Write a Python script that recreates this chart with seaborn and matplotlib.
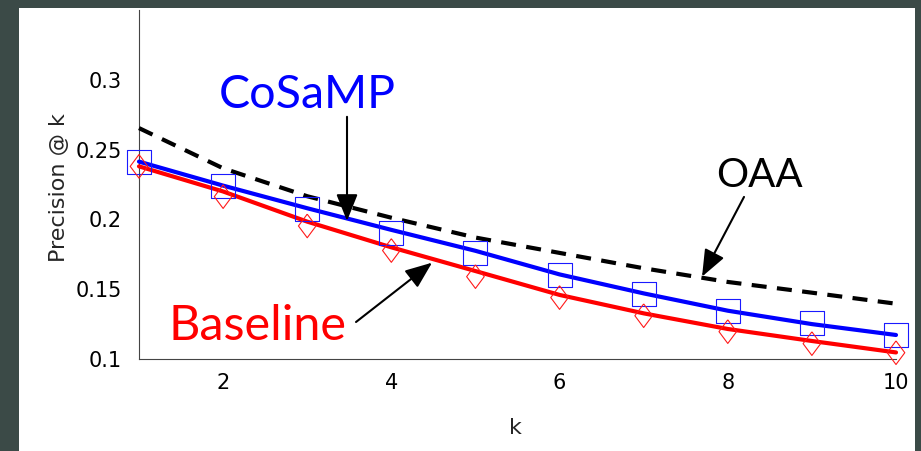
import numpy as np
import pandas as pd
import matplotlib
matplotlib.use("Agg")
import matplotlib.pyplot as plt
from matplotlib.patches import Rectangle
import seaborn as sns

# data
k = [1, 2, 3, 4, 5, 6, 7, 8, 9, 10]
oaa = [0.2654, 0.2366, 0.2166, 0.2012, 0.1870, 0.1760, 0.1650, 0.1552, 0.1475, 0.1396]
cosamp_curve = [0.2414, 0.2242, 0.2080, 0.1925, 0.1775, 0.1606, 0.1470, 0.1346, 0.1250, 0.1172]
cosamp_pts = [0.2414, 0.2240, 0.2074, 0.1900, 0.1757, 0.1600, 0.1466, 0.1346, 0.1256, 0.1170]
base_curve = [0.2380, 0.2200, 0.1984, 0.1800, 0.1630, 0.1459, 0.1327, 0.1215, 0.1129, 0.1047]
base_pts = [0.2380, 0.2163, 0.1953, 0.1777, 0.1590, 0.1440, 0.1310, 0.1196, 0.1110, 0.1045]

xticks = [2, 4, 6, 8, 10]
yticks = [0.1, 0.15, 0.2, 0.25, 0.3]
ytick_labels = ["0.1", "0.15", "0.2", "0.25", "0.3"]

df = pd.DataFrame({"k": k, "oaa": oaa, "cosamp": cosamp_curve, "cosamp_pts": cosamp_pts,
                   "base": base_curve, "base_pts": base_pts})

sns.set_style("white")
plt.rcParams["font.family"] = ["DejaVu Sans"]

fig = plt.figure(figsize=(9.21, 4.51), dpi=100)
fig.patch.set_facecolor("#3b4a47")
# white sheet inside the dark frame
fig.patches.append(Rectangle((19 / 921, 0), 896 / 921, 443 / 451, transform=fig.transFigure,
                             facecolor="white", edgecolor="none", zorder=-1))

ax = fig.add_axes([139 / 921, 1 - 359 / 451, 757 / 921, 349 / 451])
ax.set_facecolor("none")

# curves
sns.lineplot(data=df, x="k", y="oaa", ax=ax, color="black", lw=3, linestyle=(0, (3.6, 2.5)),
             clip_on=False, zorder=3)
sns.lineplot(data=df, x="k", y="cosamp", ax=ax, color="#0000ff", lw=3, clip_on=False, zorder=3)
sns.lineplot(data=df, x="k", y="base", ax=ax, color="#ff0000", lw=3, clip_on=False, zorder=3)

# point markers
diamond = [(0, 1), (0.745, 0), (0, -1), (-0.745, 0), (0, 1)]
sns.scatterplot(data=df, x="k", y="cosamp_pts", ax=ax, marker="s", s=17.3 ** 2,
                facecolor="none", edgecolor="#1a1aff", linewidth=0.8, clip_on=False, zorder=4)
sns.scatterplot(data=df, x="k", y="base_pts", ax=ax, marker=diamond, s=17 ** 2,
                facecolor="none", edgecolor="#ff1a1a", linewidth=0.8, clip_on=False, zorder=4)

ax.set_xlim(1, 10)
ax.set_ylim(0.1, 0.35)
ax.set_xticks(xticks)
ax.set_yticks(yticks)
ax.set_yticklabels(ytick_labels)
ax.tick_params(axis="both", direction="in", length=6, width=0.8, color="#444444",
               labelsize=15, labelcolor="black")
ax.tick_params(axis="x", pad=10)
ax.tick_params(axis="y", pad=12.5)
for side in ["top", "right"]:
    ax.spines[side].set_visible(False)
for side in ["left", "bottom"]:
    ax.spines[side].set_color("#444444")
    ax.spines[side].set_linewidth(0.8)

ax.set_xlabel("k", fontsize=16)
ax.set_ylabel("Precision @ k", fontsize=16)
ax.xaxis.set_label_coords(0.497, -0.170)
ax.yaxis.set_label_coords(-0.093, 0.49)

# annotations
arrow = dict(arrowstyle="-|>,head_length=0.5,head_width=0.2", color="black", lw=1.5,
             mutation_scale=33, shrinkA=0, shrinkB=0)
ax.annotate("", xy=(3.473, 0.1989), xytext=(3.473, 0.2735), arrowprops=arrow, annotation_clip=False)
ax.annotate("", xy=(7.694, 0.1590), xytext=(8.193, 0.2161), arrowprops=arrow, annotation_clip=False)
ax.annotate("", xy=(4.484, 0.1690), xytext=(3.580, 0.1265), arrowprops=arrow, annotation_clip=False)

ax.text(2.997, 0.2800, "CoSaMP", color="#0000ff", fontsize=33.5, family="Lato",
        ha="center", va="baseline")
ax.text(8.377, 0.2233, "OAA", color="black", fontsize=29, family="Lato",
        ha="center", va="baseline")
ax.text(2.409, 0.1136, "Baseline", color="#ff0000", fontsize=35, family="Lato",
        ha="center", va="baseline")

fig.savefig("out.png", dpi=100, facecolor=fig.get_facecolor())
